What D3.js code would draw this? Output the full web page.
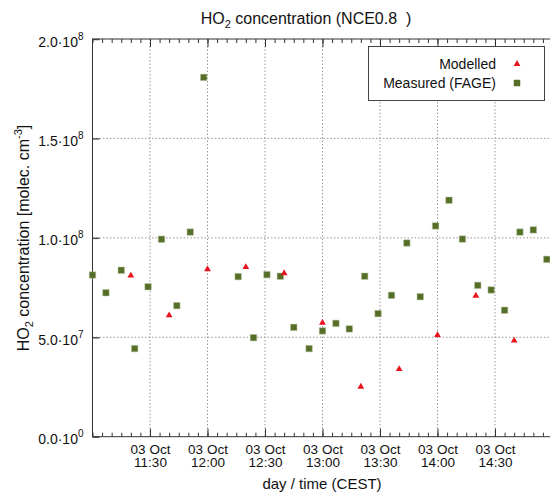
<!DOCTYPE html>
<html>
<head>
<meta charset="utf-8">
<script src="https://cdn.jsdelivr.net/npm/d3@7"></script>
<style>
  body { margin: 0; background: #fff; }
  svg { display: block; font-family: "Liberation Sans", Arial, sans-serif; }
</style>
</head>
<body>
<div id="vis"></div>
<script>
// HO2 data, 03 Oct
const modelledTimes = ["11:20", "11:40", "12:00", "12:20", "12:40", "13:00", "13:20", "13:40", "14:00", "14:20", "14:40"];
const modelledValues = [0.810e8, 0.610e8, 0.842e8, 0.853e8, 0.822e8, 0.573e8, 0.251e8, 0.340e8, 0.511e8, 0.709e8, 0.483e8];

const measuredTimes = ["11:00", "11:07", "11:15", "11:22", "11:29", "11:36", "11:44", "11:51", "11:58",
  "12:16", "12:24", "12:31", "12:38", "12:45", "12:53", "13:00", "13:07", "13:14", "13:22", "13:29",
  "13:36", "13:44", "13:51", "13:59", "14:06", "14:13", "14:21", "14:28", "14:35", "14:43", "14:50", "14:57"];
const measuredValues = [0.813e8, 0.724e8, 0.837e8, 0.443e8, 0.754e8, 0.993e8, 0.659e8, 1.029e8, 1.807e8,
  0.805e8, 0.498e8, 0.815e8, 0.807e8, 0.550e8, 0.443e8, 0.532e8, 0.570e8, 0.542e8, 0.807e8, 0.619e8,
  0.711e8, 0.974e8, 0.704e8, 1.060e8, 1.189e8, 0.994e8, 0.761e8, 0.738e8, 0.636e8, 1.029e8, 1.040e8, 0.892e8];

const xTickLabels = ["11:30", "12:00", "12:30", "13:00", "13:30", "14:00", "14:30"];
const yTickValues = [0, 5e7, 1e8, 1.5e8, 2e8];
const xDomain = ["11:00", "15:00"];

const parseTime = t => d3.timeParse("%Y-%m-%d %H:%M")("2012-10-03 " + t);

const margin = { top: 39, left: 92.5 };
const width = 460;
const height = 397.7;

const svg = d3.select("#vis")
  .append("svg")
  .attr("width", 550)
  .attr("height", 497);

const g = svg.append("g")
  .attr("transform", `translate(${margin.left},${margin.top})`);

const x = d3.scaleTime()
  .domain(xDomain.map(parseTime))
  .range([0, width]);

const y = d3.scaleLinear()
  .domain([0, 2e8])
  .range([height, 0]);

const majorTimes = xTickLabels.map(parseTime);
const minorTimes = d3.timeMinute.every(5).range(x.domain()[0], x.domain()[1]);

// grid
g.append("g")
  .selectAll("line")
  .data(majorTimes)
  .join("line")
  .attr("x1", d => x(d)).attr("x2", d => x(d))
  .attr("y1", 0).attr("y2", height)
  .attr("stroke", "#999")
  .attr("stroke-dasharray", "1.5,2");

g.append("g")
  .selectAll("line")
  .data(yTickValues.slice(1, -1))
  .join("line")
  .attr("x1", 0).attr("x2", width)
  .attr("y1", d => y(d)).attr("y2", d => y(d))
  .attr("stroke", "#999")
  .attr("stroke-dasharray", "1.5,2");

// minor ticks (bottom & top)
g.append("g")
  .attr("transform", `translate(0,${height})`)
  .call(d3.axisBottom(x).tickValues(minorTimes).tickSizeInner(-4).tickSizeOuter(0).tickFormat(""))
  .call(a => a.select(".domain").remove())
  .selectAll("line").attr("stroke", "#333");

g.append("g")
  .call(d3.axisTop(x).tickValues(minorTimes).tickSizeInner(-4).tickSizeOuter(0).tickFormat(""))
  .call(a => a.select(".domain").remove())
  .selectAll("line").attr("stroke", "#333");

// major ticks, top
g.append("g")
  .call(d3.axisTop(x).tickValues(majorTimes).tickSizeInner(-8).tickSizeOuter(0).tickFormat(""))
  .call(a => a.select(".domain").remove())
  .selectAll("line").attr("stroke", "#333");

// major ticks + two-line labels, bottom
const xAxis = g.append("g")
  .attr("transform", `translate(0,${height})`)
  .call(d3.axisBottom(x).tickValues(majorTimes).tickSizeInner(-8).tickSizeOuter(0).tickFormat(""));
xAxis.select(".domain").remove();
xAxis.selectAll("line").attr("stroke", "#333");
xAxis.selectAll(".tick").each(function (d) {
  const t = d3.select(this);
  t.append("text")
    .attr("fill", "#111").attr("text-anchor", "middle").attr("font-size", 13.5)
    .attr("y", 17.5)
    .text(d3.timeFormat("%d %b")(d));
  t.append("text")
    .attr("fill", "#111").attr("text-anchor", "middle").attr("font-size", 13.5)
    .attr("y", 30)
    .text(d3.timeFormat("%H:%M")(d));
});

// y axis
const yAxis = g.append("g")
  .call(d3.axisLeft(y).tickValues(yTickValues).tickSizeInner(-7).tickSizeOuter(0).tickFormat(""));
yAxis.select(".domain").remove();
yAxis.selectAll("line").attr("stroke", "#555").attr("stroke-width", 1.5);
yAxis.selectAll(".tick").append("text")
  .attr("fill", "#111")
  .attr("text-anchor", "end")
  .attr("font-size", 14)
  .attr("x", -9)
  .attr("y", 7)
  .each(function (d) {
    const e = d === 0 ? 0 : Math.floor(Math.log10(d));
    const m = d / Math.pow(10, e);
    const t = d3.select(this);
    t.append("tspan").text(m.toFixed(1) + "\u00b710");
    t.append("tspan").attr("font-size", 10).attr("dy", -7).text(e);
  });

// frame
g.append("rect")
  .attr("width", width)
  .attr("height", height)
  .attr("fill", "none")
  .attr("stroke", "#333")
  .attr("stroke-width", 1);

// legend
const legend = svg.append("g");
legend.append("rect")
  .attr("x", 368.5).attr("y", 46.5)
  .attr("width", 176).attr("height", 54)
  .attr("fill", "#fff")
  .attr("stroke", "#444");

const legendItems = [
  { label: "Modelled", symbol: d3.symbolTriangle, size: 20, color: "#e8141e" },
  { label: "Measured (FAGE)", symbol: d3.symbolSquare, size: 42, color: "#566f28" }
];
legendItems.forEach((d, i) => {
  legend.append("text")
    .attr("x", 496)
    .attr("y", 69 + i * 19)
    .attr("text-anchor", "end")
    .attr("font-size", 14)
    .attr("fill", "#111")
    .text(d.label);
  legend.append("path")
    .attr("transform", `translate(517,${64 + i * 19})`)
    .attr("d", d3.symbol(d.symbol, d.size))
    .attr("fill", d.color);
});

// points
const measured = measuredTimes.map((t, i) => ({ t: parseTime(t), v: measuredValues[i] }));
const modelled = modelledTimes.map((t, i) => ({ t: parseTime(t), v: modelledValues[i] }));

g.selectAll(".meas")
  .data(measured)
  .join("path")
  .attr("class", "meas")
  .attr("transform", d => `translate(${x(d.t)},${y(d.v)})`)
  .attr("d", d3.symbol(d3.symbolSquare, 42))
  .attr("fill", "#566f28")
  .attr("stroke", "#b9c7a0")
  .attr("stroke-width", 0.5);

g.selectAll(".mod")
  .data(modelled)
  .join("path")
  .attr("class", "mod")
  .attr("transform", d => `translate(${x(d.t)},${y(d.v)})`)
  .attr("d", d3.symbol(d3.symbolTriangle, 20))
  .attr("fill", "#e8141e");

// titles
const title = svg.append("text")
  .attr("x", 306)
  .attr("y", 24)
  .attr("text-anchor", "middle")
  .attr("font-size", 16)
  .attr("fill", "#111")
  .style("white-space", "pre");
title.append("tspan").text("HO");
title.append("tspan").attr("font-size", 11).attr("dy", 4).text("2");
title.append("tspan").attr("dy", -4).text(" concentration (NCE0.8  )");

svg.append("text")
  .attr("x", 322)
  .attr("y", 489)
  .attr("text-anchor", "middle")
  .attr("font-size", 15)
  .attr("fill", "#111")
  .text("day / time (CEST)");

const ylab = svg.append("text")
  .attr("transform", "translate(29,238) rotate(-90)")
  .attr("text-anchor", "middle")
  .attr("font-size", 16)
  .attr("fill", "#111");
ylab.append("tspan").text("HO");
ylab.append("tspan").attr("font-size", 11).attr("dy", 4).text("2");
ylab.append("tspan").attr("dy", -4).text(" concentration [molec. cm");
ylab.append("tspan").attr("font-size", 11).attr("dy", -7).text("-3");
ylab.append("tspan").attr("dy", 7).text("]");
</script>
</body>
</html>
